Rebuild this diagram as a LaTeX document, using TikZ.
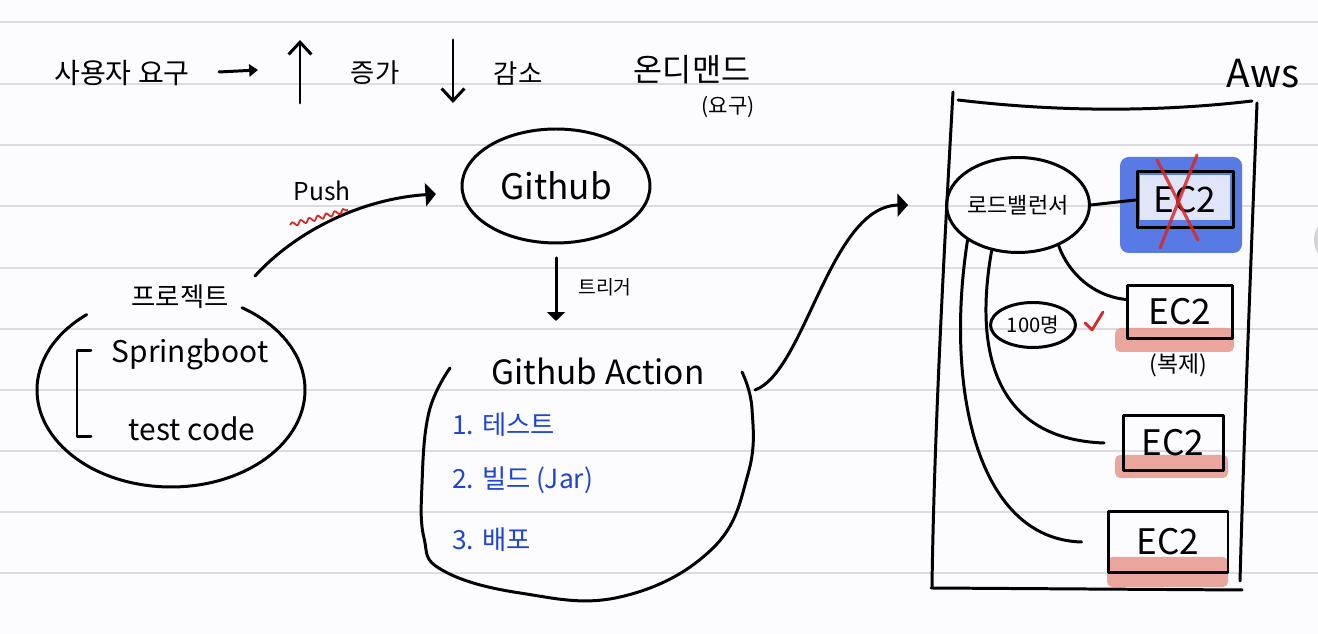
\documentclass[tikz,border=0pt]{standalone}
\usepackage{fontspec}
\setmainfont{Noto Sans CJK KR}
\usetikzlibrary{arrows.meta,shapes.geometric,decorations.pathmorphing}
\definecolor{paper}{RGB}{252,251,253}
\definecolor{paperline}{RGB}{220,220,224}
\definecolor{inkblue}{RGB}{30,70,210}
\definecolor{hlblue}{RGB}{88,122,228}
\definecolor{hlblueinner}{RGB}{224,229,250}
\definecolor{salmon}{RGB}{232,150,140}
\definecolor{markred}{RGB}{215,40,40}
\definecolor{uigray}{RGB}{210,210,212}
\begin{document}
\begin{tikzpicture}[x=0.02cm,y=0.02cm,
  ink/.style={line width=1.7pt, line cap=round, line join=round},
  txt/.style={font=\fontsize{#1pt}{#1pt}\selectfont, inner sep=0pt},
  bluetxt/.style={font=\fontsize{#1pt}{#1pt}\selectfont, inner sep=0pt, text=inkblue, anchor=west},
  ovalnode/.style={ellipse, draw, ink, inner sep=0pt},
  ecbox/.style={rectangle, draw, ink, inner sep=0pt, font=\fontsize{20pt}{20pt}\selectfont},
  hlsalmon/.style={fill=salmon, fill opacity=0.85, rounded corners=3pt},
  headbig/.style={-{Triangle[length=6pt,width=13pt]}},
]
\useasboundingbox (0,0) rectangle (1318,634);
\clip (0,0) rectangle (1318,634);
\fill[paper] (0,0) rectangle (1318,634);
\foreach \yy in {612,550,489,428,366,305,244,183,122,61}
  \draw[paperline, line width=1.1pt] (0,\yy) -- (1318,\yy);
\fill[uigray] (1340,394) circle (26);

% ---- top line ----
\node[txt=16] (req) at (122,561) {사용자 요구};
\coordinate (ra) at (219,562);
\coordinate (rb) at (258,564);
\draw[ink, -{Triangle[length=5pt,width=7pt]}] (ra) -- (rb);
\coordinate (upa) at (300,531);
\coordinate (upb) at (300,594);
\draw[ink, -{Straight Barb[length=7pt,width=13pt]}] (upa) -- (upb);
\node[txt=15] (inc) at (375,561) {증가};
\coordinate (dna) at (453,594);
\coordinate (dnb) at (453,531);
\draw[ink, -{Straight Barb[length=7pt,width=13pt]}] (dna) -- (dnb);
\node[txt=15] (dec) at (518,561) {감소};
\node[txt=18] (ondemand) at (692,564) {온디맨드};
\node[txt=12] (ondemandsub) at (728,527) {(요구)};

% ---- project ----
\node[ellipse, minimum width=2.68cm, minimum height=1.94cm] (proj) at (171,244) {};
\draw[ink] (proj.center) ++(129:134 and 97) arc[start angle=129, end angle=418, x radius=134, y radius=97];
\node[txt=15] (projt) at (180,337) {프로젝트};
\node[txt=17] (spring) at (190,280) {Springboot};
\node[txt=17] (testc) at (192,205) {test code};
\draw[ink] (91,283) -- (77,283) -- (77,197) -- (91,197);

% ---- github ----
\node[ovalnode, minimum width=3.76cm, minimum height=2.28cm, font=\fontsize{20pt}{20pt}\selectfont] (github) at (556,448) {Github};
\coordinate (pushs) at (255,358);
\coordinate (pushe) at (436,440);
\draw[ink, headbig] (pushs) .. controls (295,402) and (360,435) .. (pushe);
\node[txt=14] (pushl) at (322,443) {Push};
\draw[markred, line width=1pt, decorate, decoration={snake, amplitude=1.2pt, segment length=5pt}] (290,409) -- (348,424);

% ---- trigger ----
\coordinate (trs) at (556,376);
\coordinate (tre) at (556,313);
\draw[ink, -{Triangle[length=5pt,width=10pt]}] (trs) -- (tre);
\node[txt=11] (trig) at (605,347) {트리거};

% ---- github action ----
\node[ellipse, minimum width=6.6cm, minimum height=4.6cm] (ga) at (587,150) {};
\draw[ink] plot[smooth, tension=0.7] coordinates {(450,266) (429,222) (422,150) (424,96) (442,64) (520,41) (620,37) (712,85) (748,160) (752,225) (742,262)};
\node[txt=19] (gat) at (598,263) {Github Action};
\node[bluetxt=15] (s1) at (452,209) {1. 테스트};
\node[bluetxt=15] (s2) at (452,154) {2. 빌드 (Jar)};
\node[bluetxt=15] (s3) at (452,94) {3. 배포};

\coordinate (deps) at (755,244);
\coordinate (depe) at (908,429);
\draw[ink, headbig] (deps) .. controls (805,262) and (830,428) .. (depe);

% ---- AWS box ----
\draw[ink] (953,542) .. controls (945,400) and (934,200) .. (932,47);
\draw[ink] (958,534) .. controls (1050,523) and (1150,521) .. (1252,533);
\draw[ink] (1257,531) .. controls (1252,400) and (1244,200) .. (1240,53);
\draw[ink] (931,46) -- (1242,44);
\node[txt=22] (aws) at (1263,560) {Aws};

% highlights
\fill[hlblue, rounded corners=5pt] (1120,381) rectangle (1242,477);
\fill[hlblueinner] (1140,414) rectangle (1230,459);
\fill[hlsalmon] (1115,282) rectangle (1234,306);
\fill[hlsalmon] (1115,156) rectangle (1228,179);
\fill[hlsalmon] (1107,47) rectangle (1228,77);

% load balancer and EC2
\node[ovalnode, minimum width=2.66cm, minimum height=1.9cm, font=\fontsize{12.5pt}{12.5pt}\selectfont] (lb) at (1018,429) {로드밸런서};
\node[ecbox, minimum width=1.92cm, minimum height=1.12cm] (ec2a) at (1185,434) {EC2};
\draw[markred, line width=1.8pt, line cap=round, opacity=0.85] (1197,479) -- (1160,386);
\draw[markred, line width=1.8pt, line cap=round, opacity=0.85] (1157,474) -- (1198,394);
\node[ecbox, minimum width=2.1cm, minimum height=1.06cm] (ec2b) at (1180,322) {EC2};
\node[txt=13] (copy) at (1178,269) {(복제)};
\node[ecbox, minimum width=2cm, minimum height=1.1cm] (ec2c) at (1173,191) {EC2};
\node[ecbox, minimum width=2.4cm, minimum height=1.22cm] (ec2d) at (1168,92) {EC2};

\draw[ink] (lb.east) -- (ec2a.west);
\draw[ink] (lb.-45) .. controls (1068,362) and (1092,338) .. ([yshift=0.25cm]ec2b.west);
\draw[ink] (lb.-120) .. controls (975,290) and (990,195) .. ([xshift=-0.35cm]ec2c.west);
\draw[ink] (lb.-145) .. controls (945,250) and (975,95) .. ([xshift=-0.5cm]ec2d.west);

\node[ovalnode, minimum width=1.7cm, minimum height=0.9cm, font=\fontsize{11.5pt}{11.5pt}\selectfont] (users) at (1033,309) {100명};
\draw[markred, line width=1.6pt, line cap=round, line join=round] (1085,311) -- (1092,304) -- (1103,322);
\end{tikzpicture}
\end{document}
